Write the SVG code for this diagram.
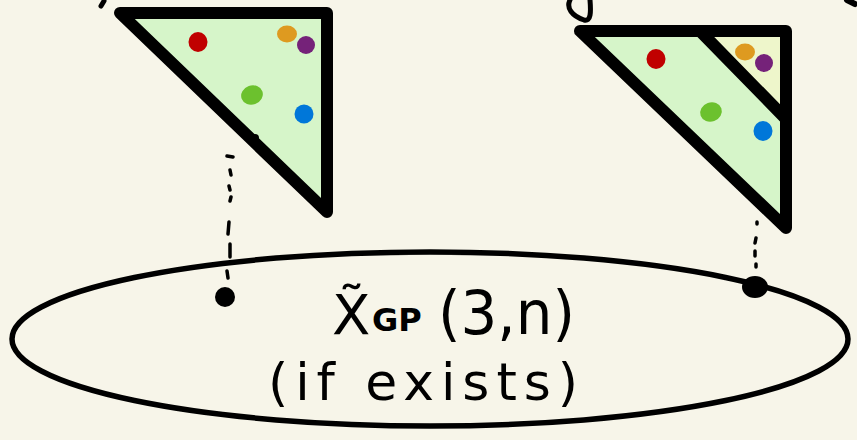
<svg xmlns="http://www.w3.org/2000/svg" width="857" height="440" viewBox="0 0 857 440">
<style>
.tri{stroke:#000;stroke-width:12;stroke-linejoin:round;stroke-linecap:round}
.ink{fill:none;stroke:#000;stroke-linecap:round;stroke-linejoin:round}
.dash{fill:none;stroke:#000;stroke-width:3.5;stroke-linecap:round}
.lbl{font-family:"DejaVu Sans","Liberation Sans",sans-serif;fill:#000}
</style>
<rect width="857" height="440" fill="#f7f5e9"/>
<g id="fragments">
<path class="ink" stroke-width="5" d="M104 1 L101 6"/>
<path class="ink" stroke-width="5" d="M570 0 C566 8 572 16 584 20 C591 22 591 12 590 0"/>
<path class="ink" stroke-width="6" d="M847 0 L855 4"/>
</g>
<g id="ellipse-node">
<ellipse cx="430" cy="339" rx="418" ry="87" fill="none" stroke="#000" stroke-width="5.5"/>
<text class="lbl" x="332" y="334" font-size="56">X̃</text>
<text class="lbl" x="372" y="331" font-size="32" font-weight="bold">GP</text>
<text class="lbl" x="438" y="334" font-size="60" textLength="137" lengthAdjust="spacingAndGlyphs">(3,n)</text>
<text class="lbl" x="268" y="400" font-size="52" textLength="310" lengthAdjust="spacing">(if exists)</text>
</g>
<g id="triangle-left">
<path class="tri" d="M120 13 L327 13 L327 212 Z" fill="#d6f5c9"/>
<ellipse cx="198" cy="42" rx="9.5" ry="10" fill="#c00000"/>
<ellipse cx="287" cy="34" rx="10" ry="8.5" fill="#de9a20"/>
<ellipse cx="306" cy="45" rx="9" ry="9" fill="#752279"/>
<ellipse cx="252" cy="95" rx="11" ry="9.5" fill="#6cc12e" transform="rotate(-20 252 95)"/>
<ellipse cx="304" cy="114" rx="9.5" ry="9.5" fill="#0077d9"/>
<circle cx="255" cy="138" r="4" fill="#000"/>
</g>
<g id="triangle-right">
<path d="M700 31 L786 31 L786 119 Z" fill="#eef6cb"/>
<path d="M580 31 L700 31 L786 119 L786 228 Z" fill="#d6f5c9"/>
<path class="tri" d="M580 31 L786 31 L786 228 Z" fill="none"/>
<path class="tri" d="M700 31 L786 119" fill="none"/>
<ellipse cx="656" cy="59" rx="9.5" ry="10" fill="#c00000"/>
<ellipse cx="745" cy="52" rx="10" ry="8.5" fill="#de9a20"/>
<ellipse cx="764" cy="63" rx="9" ry="9" fill="#752279"/>
<ellipse cx="711" cy="112" rx="11" ry="9.5" fill="#6cc12e" transform="rotate(-20 711 112)"/>
<ellipse cx="763" cy="131" rx="9.5" ry="10" fill="#0077d9"/>
</g>
<g id="connectors">
<path class="dash" d="M227 156 L233 157 M230 170 L231 175 M229 186 L230 190 M231 197 L230 201 M229 222 L228 234 M230 244 L230 257 M227 271 L228 278"/>
<ellipse cx="225" cy="297" rx="10" ry="10" fill="#000"/>
<path class="dash" d="M757 222 L757 224 M756 238 L755 243 M755 251 L755 256 M756 264 L756 267"/>
<ellipse cx="755" cy="287" rx="13" ry="11" fill="#000"/>
</g>
</svg>
